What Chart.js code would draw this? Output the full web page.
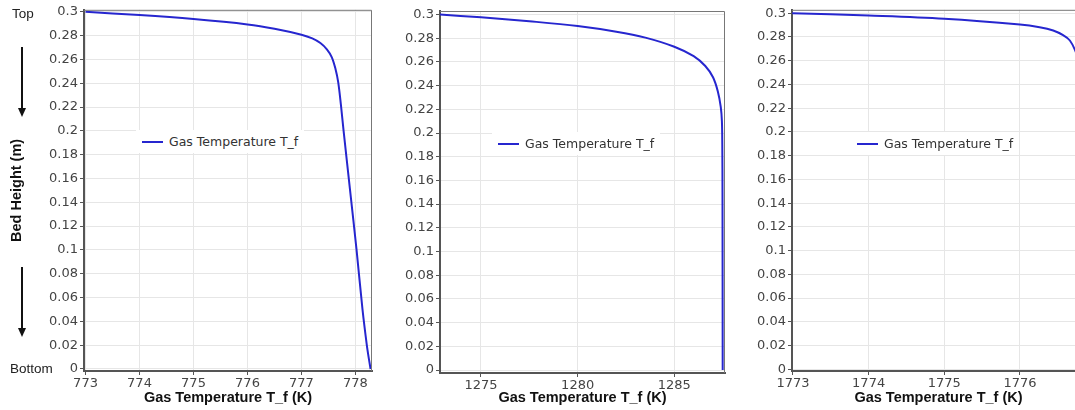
<!DOCTYPE html>
<html>
<head>
<meta charset="utf-8">
<script src="https://cdn.jsdelivr.net/npm/chart.js@4.4.1/dist/chart.umd.min.js"></script>
<style>
  body { margin: 0; width: 1075px; height: 410px; overflow: hidden; position: relative; background: #fff; }
  .plot { position: absolute; top: 0; }
  .note { position: absolute; font: 13.5px "Liberation Sans", Arial, sans-serif; color: #222; }
  .shaft { position: absolute; width: 2px; background: #111; }
  .head { position: absolute; width: 0; height: 0; border-left: 4px solid transparent; border-right: 4px solid transparent; border-top: 9px solid #111; }
  .legend { position: absolute; background: #fff; height: 23px; display: flex; align-items: center; padding: 0 6px; font: 12.5px "DejaVu Sans", sans-serif; color: #333; }
  .legend i { display: inline-block; width: 21px; height: 2px; margin-right: 6px; }
</style>
</head>
<body>
<div class="plot" style="left:0"><canvas id="c1" width="380" height="410"></canvas></div>
<div class="plot" style="left:380px"><canvas id="c2" width="350" height="410"></canvas></div>
<div class="plot" style="left:730px"><canvas id="c3" width="360" height="410"></canvas></div>

<span class="note" style="left:12px; top:6px">Top</span>
<span class="note" style="left:10px; top:361px">Bottom</span>
<div class="shaft" style="left:21px; top:47px; height:62px"></div>
<div class="head" style="left:18px; top:108px"></div>
<div class="shaft" style="left:21px; top:267px; height:62px"></div>
<div class="head" style="left:18px; top:328px"></div>

<script>
const seriesLabel = "Gas Temperature T_f";
const xTitle = "Gas Temperature T_f (K)";
const yTitle = "Bed Height (m)";
const lineColor = "#2626cf";

// case 1: inlet 773 K
const temp1 = [773.0, 774.0, 775.0, 776.0, 776.5, 777.0, 777.2, 777.35, 777.47, 777.56, 777.63, 777.68, 777.73, 777.78, 777.9, 778.02, 778.13, 778.21, 778.25, 778.28];
const height1 = [0.3, 0.2973, 0.2939, 0.2894, 0.2858, 0.2808, 0.2777, 0.2738, 0.2685, 0.262, 0.252, 0.241, 0.222, 0.2, 0.15, 0.1, 0.05, 0.02, 0.008, 0];

// case 2: inlet 1273 K
const temp2 = [1272.88, 1275, 1277.5, 1280, 1282, 1283.5, 1285, 1286, 1286.6, 1287.0, 1287.25, 1287.4, 1287.46, 1287.48, 1287.49, 1287.5];
const height2 = [0.3, 0.2976, 0.2943, 0.2903, 0.2855, 0.2805, 0.2728, 0.2648, 0.2565, 0.247, 0.235, 0.222, 0.21, 0.19, 0.15, 0];

// case 3: inlet 1773 K
const temp3 = [1772.99, 1774, 1775, 1776, 1776.26, 1776.44, 1776.57, 1776.66, 1776.73, 1776.8, 1776.86];
const height3 = [0.3, 0.298, 0.2953, 0.2905, 0.2882, 0.2854, 0.2815, 0.277, 0.2686, 0.255, 0.24];

const panels = [
  { id: "c1", temp: temp1, height: height1, xMin: 772.972, xMax: 778.306, xStep: 1, yMin: -0.0017, yMax: 0.3017,
    yWidth: 84, xHeight: 39, pad: { left: 0, right: 8, top: 8, bottom: 0 }, showYTitle: true, legend: [136, 130] },
  { id: "c2", temp: temp2, height: height2, xMin: 1272.88, xMax: 1287.62, xStep: 5, yMin: -0.0025, yMax: 0.30295,
    yWidth: 60, xHeight: 37, pad: { left: 0, right: 5, top: 11, bottom: 0 }, showYTitle: false, legend: [492, 132] },
  { id: "c3", temp: temp3, height: height3, xMin: 1772.987, xMax: 1776.86, xStep: 1, yMin: -0.0014, yMax: 0.30286,
    yWidth: 62, xHeight: 39, pad: { left: 0, right: 5, top: 9, bottom: 0 }, showYTitle: false, legend: [851, 132] },
];

// thin frame on top/right of the plot area
const frame = {
  id: "frame",
  afterDraw(chart) {
    const a = chart.chartArea;
    const ctx = chart.ctx;
    ctx.save();
    ctx.strokeStyle = "#777";
    ctx.lineWidth = 1;
    ctx.beginPath();
    ctx.moveTo(a.left, a.top + 0.5);
    ctx.lineTo(a.right - 0.5, a.top + 0.5);
    ctx.lineTo(a.right - 0.5, a.bottom);
    ctx.stroke();
    ctx.restore();
  },
};

const tickFont = { family: "DejaVu Sans", size: 13 };
const titleFont = { family: "Liberation Sans", size: 14.5, weight: "bold" };

panels.forEach((p) => {
  const points = p.temp.map((t, i) => ({ x: t, y: p.height[i] }));

  new Chart(document.getElementById(p.id), {
    type: "scatter",
    data: {
      datasets: [
        {
          label: seriesLabel,
          data: points,
          showLine: true,
          borderColor: lineColor,
          borderWidth: 2,
          pointRadius: 0,
          tension: 0.35,
        },
      ],
    },
    options: {
      responsive: false,
      animation: false,
      layout: { padding: p.pad },
      plugins: { legend: { display: false }, tooltip: { enabled: false } },
      scales: {
        x: {
          type: "linear",
          min: p.xMin,
          max: p.xMax,
          afterFit: (s) => { s.height = p.xHeight; },
          ticks: {
            stepSize: p.xStep,
            includeBounds: false,
            color: "#444",
            font: tickFont,
            padding: 1,
            maxRotation: 0,
            callback: (v) => String(v),
          },
          grid: { color: "#e6e6e6", tickColor: "#555", tickLength: 4 },
          border: { color: "#555", width: 2 },
          title: { display: true, text: xTitle, color: "#111", font: titleFont, padding: { top: 0, bottom: 3 } },
        },
        y: {
          type: "linear",
          min: p.yMin,
          max: p.yMax,
          afterFit: (s) => { s.width = p.yWidth; },
          ticks: {
            stepSize: 0.02,
            includeBounds: false,
            color: "#444",
            font: tickFont,
            padding: 2,
            callback: (v) => String(+v.toFixed(2)),
          },
          grid: { color: "#e6e6e6", tickColor: "#555", tickLength: 4 },
          border: { color: "#555", width: 2 },
          title: { display: p.showYTitle, text: yTitle, color: "#111", font: titleFont, padding: { top: 8, bottom: 0 } },
        },
      },
    },
    plugins: [frame],
  });

  // legend box inside the plot
  const lg = document.createElement("div");
  lg.className = "legend";
  lg.style.left = p.legend[0] + "px";
  lg.style.top = p.legend[1] + "px";
  lg.innerHTML = `<i style="background:${lineColor}"></i>${seriesLabel}`;
  document.body.appendChild(lg);
});
</script>
</body>
</html>
